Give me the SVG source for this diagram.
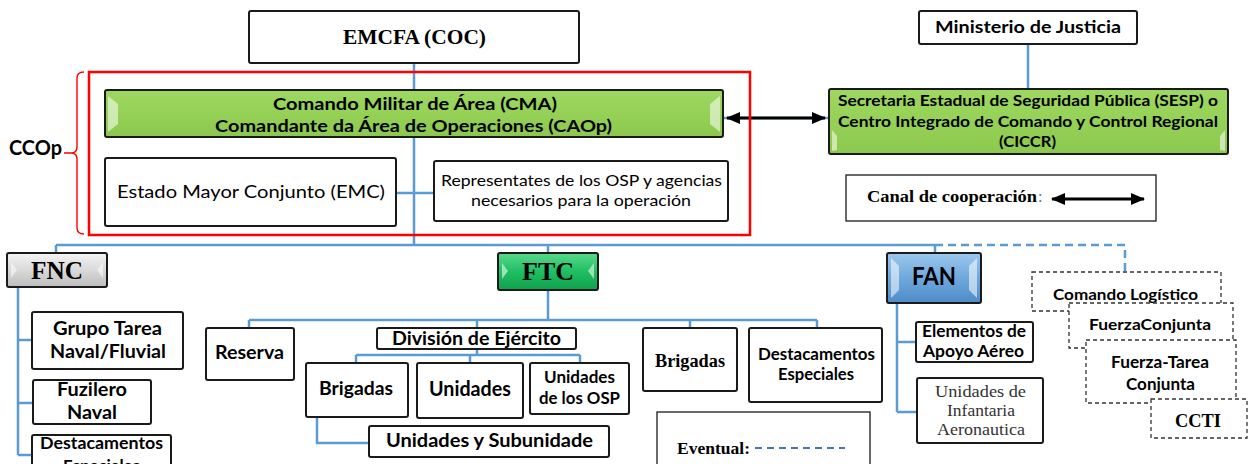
<svg xmlns="http://www.w3.org/2000/svg" width="1253" height="464" viewBox="0 0 1253 464">
<defs>
<linearGradient id="gGreen" x1="0" y1="0" x2="0" y2="1">
<stop offset="0" stop-color="#9ED860"/><stop offset="1" stop-color="#8CC84E"/>
</linearGradient>
<linearGradient id="gGrey" x1="0" y1="0" x2="0" y2="1">
<stop offset="0" stop-color="#F4F4F4"/><stop offset="0.5" stop-color="#D9D9D9"/><stop offset="1" stop-color="#BDBDBD"/>
</linearGradient>
<linearGradient id="gFtc" x1="0" y1="0" x2="0" y2="1">
<stop offset="0" stop-color="#5BD98C"/><stop offset="0.5" stop-color="#1FBF62"/><stop offset="1" stop-color="#0FA04C"/>
</linearGradient>
<linearGradient id="gFan" x1="0" y1="0" x2="0" y2="1">
<stop offset="0" stop-color="#9CC8EE"/><stop offset="0.5" stop-color="#6FA8DC"/><stop offset="1" stop-color="#4E8CC8"/>
</linearGradient>
<marker id="ah" viewBox="0 0 14 12" refX="13" refY="6" markerWidth="14" markerHeight="12" markerUnits="userSpaceOnUse" orient="auto-start-reverse">
<path d="M0,0 L14,6 L0,12 Z" fill="#000"/>
</marker>
</defs>
<style>
.box{fill:#fff;stroke:#1a1a1a;stroke-width:2}
.conn{fill:none;stroke:#5B9BD5;stroke-width:2.5}
.dbox{fill:#fff;stroke:#333;stroke-width:1.3;stroke-dasharray:4 3}
.t{font-family:Lato,'Liberation Sans',sans-serif;font-weight:bold;fill:#000}
.r{font-family:Lato,'Liberation Sans',sans-serif;font-weight:normal;fill:#000}
.s{font-family:'Liberation Serif','Times New Roman',serif;font-weight:bold;fill:#000}
.sr{font-family:'Liberation Serif','Times New Roman',serif;font-weight:normal;fill:#333}
.bev{fill:#fff;opacity:0.55}
</style>

<g id="connectors">
<path class="conn" d="M414,63 V245"/>
<path class="conn" d="M56,245 H935"/>
<path class="conn" d="M56,245 V253 M548,245 V253 M935,245 V253"/>
<path class="conn" d="M935,245 H1125 V272" stroke-dasharray="8 5"/>
<path class="conn" d="M396,193 H434"/>
<path class="conn" d="M1028,44 V89"/>
<path class="conn" d="M723,118 H829"/>
<path class="conn" d="M18,287 V455 M18,340 H32 M18,403 H33 M18,455 H32"/>
<path class="conn" d="M548,290 V320 M249,320 H817 M249,320 V328 M477,320 V328 M690,320 V328 M817,320 V328"/>
<path class="conn" d="M477,349 V355 M356,355 H580 M356,355 V363 M470,355 V363 M580,355 V363"/>
<path class="conn" d="M317,417 V443 H369"/>
<path class="conn" d="M897,303 V412 M897,342 H916 M897,412 H917"/>
<path d="M727,118 H825" stroke="#000" stroke-width="3" fill="none" marker-start="url(#ah)" marker-end="url(#ah)"/>
</g>

<g id="ccop">
<rect x="89" y="72" width="661" height="163" fill="none" stroke="#FF0000" stroke-width="2.5"/>
<path d="M84,72 Q77,72 77,78 V147 Q77,153 71,153 H64 M71,153 Q77,153 77,159 V228 Q77,234 84,234" fill="none" stroke="#FF0000" stroke-width="1.4"/>
<text class="t" x="9" y="155" font-size="20" textLength="53" lengthAdjust="spacingAndGlyphs">CCOp</text>
</g>

<g id="emcfa">
<rect class="box" x="249" y="11" width="330" height="52" rx="2"/>
<text class="s" x="414.5" y="44" font-size="21" text-anchor="middle" textLength="143" lengthAdjust="spacingAndGlyphs">EMCFA (COC)</text>
</g>

<g id="cma">
<rect x="105" y="90" width="618" height="47" rx="2" fill="url(#gGreen)" stroke="#1a1a1a" stroke-width="2"/>
<polygon class="bev" points="108,96 118,104 118,124 108,132"/>
<polygon class="bev" points="720,96 710,104 710,124 720,132"/>
<text class="t" x="415" y="110" font-size="17" text-anchor="middle" textLength="284" lengthAdjust="spacingAndGlyphs">Comando Militar de Área (CMA)</text>
<text class="t" x="413.5" y="132" font-size="17" text-anchor="middle" textLength="397" lengthAdjust="spacingAndGlyphs">Comandante da Área de Operaciones (CAOp)</text>
</g>

<g id="emc">
<rect class="box" x="105" y="158" width="291" height="68" rx="2"/>
<text class="r" x="251" y="198" font-size="18" text-anchor="middle" textLength="268" lengthAdjust="spacingAndGlyphs">Estado Mayor Conjunto (EMC)</text>
</g>

<g id="representantes">
<rect class="box" x="434" y="161" width="294" height="60" rx="2"/>
<text class="r" x="581.5" y="186" font-size="16" text-anchor="middle" textLength="281" lengthAdjust="spacingAndGlyphs">Representates de los OSP y agencias</text>
<text class="r" x="581" y="206" font-size="16" text-anchor="middle" textLength="220" lengthAdjust="spacingAndGlyphs">necesarios para la operación</text>
</g>

<g id="ministerio">
<rect class="box" x="919" y="11" width="218" height="33" rx="2"/>
<text class="t" x="1028" y="33" font-size="17" text-anchor="middle" textLength="186" lengthAdjust="spacingAndGlyphs">Ministerio de Justicia</text>
</g>

<g id="sesp">
<rect x="829" y="89" width="399" height="65" rx="2" fill="url(#gGreen)" stroke="#1a1a1a" stroke-width="2"/>
<polygon class="bev" points="832,130 837,136 837,150 832,151" opacity="0.4"/>
<polygon class="bev" points="1225,130 1220,136 1220,150 1225,151" opacity="0.4"/>
<text class="t" x="1028" y="106" font-size="16" text-anchor="middle" textLength="380" lengthAdjust="spacingAndGlyphs">Secretaria Estadual de Seguridad Pública (SESP) o</text>
<text class="t" x="1028" y="127" font-size="16" text-anchor="middle" textLength="380" lengthAdjust="spacingAndGlyphs">Centro Integrado de Comando y Control Regional</text>
<text class="t" x="1027.5" y="147" font-size="16" text-anchor="middle" textLength="57" lengthAdjust="spacingAndGlyphs">(CICCR)</text>
</g>

<g id="legend-canal">
<rect x="846" y="175" width="310" height="46" fill="#fff" stroke="#1a1a1a" stroke-width="1.3"/>
<text class="s" x="867" y="202" font-size="16" textLength="170" lengthAdjust="spacingAndGlyphs">Canal de cooperación</text>
<text x="1038" y="202" font-size="16" font-family="'Liberation Serif',serif" fill="#4472C4">:</text>
<path d="M1052,199 H1144" stroke="#000" stroke-width="3" fill="none" marker-start="url(#ah)" marker-end="url(#ah)"/>
</g>

<g id="fnc">
<rect x="7" y="253" width="100" height="34" rx="2" fill="url(#gGrey)" stroke="#1a1a1a" stroke-width="2"/>
<polygon class="bev" points="11,262 17,270 11,278" opacity="0.9"/>
<polygon class="bev" points="103,262 97,270 103,278" opacity="0.9"/>
<text class="s" x="57" y="279" font-size="25" text-anchor="middle" textLength="52" lengthAdjust="spacingAndGlyphs">FNC</text>
</g>

<g id="ftc">
<rect x="498" y="253" width="100" height="37" rx="2" fill="url(#gFtc)" stroke="#1a1a1a" stroke-width="2"/>
<polygon class="bev" points="502,263 508,271 502,279" opacity="0.8"/>
<polygon class="bev" points="594,263 588,271 594,279" opacity="0.8"/>
<text class="s" x="548" y="280" font-size="25" text-anchor="middle" textLength="52" lengthAdjust="spacingAndGlyphs">FTC</text>
</g>

<g id="fan">
<rect x="887" y="253" width="94" height="50" rx="2" fill="url(#gFan)" stroke="#1a1a1a" stroke-width="2"/>
<polygon class="bev" points="891,258 899,266 899,290 891,298" opacity="0.6"/>
<polygon class="bev" points="977,258 969,266 969,290 977,298" opacity="0.6"/>
<text class="t" x="934" y="285" font-size="24" text-anchor="middle" textLength="44" lengthAdjust="spacingAndGlyphs">FAN</text>
</g>

<g id="grupo-tarea">
<rect class="box" x="32" y="312" width="151" height="57" rx="2"/>
<text class="t" x="107.5" y="335" font-size="19" text-anchor="middle" textLength="109" lengthAdjust="spacingAndGlyphs">Grupo Tarea</text>
<text class="t" x="108" y="358" font-size="19" text-anchor="middle" textLength="116" lengthAdjust="spacingAndGlyphs">Naval/Fluvial</text>
</g>

<g id="fuzilero">
<rect class="box" x="33" y="380" width="118" height="44" rx="2"/>
<text class="t" x="92" y="396" font-size="19" text-anchor="middle" textLength="70" lengthAdjust="spacingAndGlyphs">Fuzilero</text>
<text class="t" x="92" y="419" font-size="19" text-anchor="middle" textLength="50" lengthAdjust="spacingAndGlyphs">Naval</text>
</g>

<g id="destacamentos-fnc">
<rect class="box" x="32" y="435" width="139" height="40" rx="2"/>
<text class="t" x="101.5" y="449" font-size="17" text-anchor="middle" textLength="123" lengthAdjust="spacingAndGlyphs">Destacamentos</text>
<text class="t" x="101.5" y="472" font-size="17" text-anchor="middle" textLength="77" lengthAdjust="spacingAndGlyphs">Especiales</text>
</g>

<g id="reserva">
<rect class="box" x="206" y="328" width="88" height="52" rx="2"/>
<text class="t" x="249.5" y="359" font-size="19" text-anchor="middle" textLength="69" lengthAdjust="spacingAndGlyphs">Reserva</text>
</g>

<g id="division">
<rect class="box" x="377" y="328" width="199" height="21" rx="2"/>
<text class="t" x="476.5" y="345" font-size="18" text-anchor="middle" textLength="169" lengthAdjust="spacingAndGlyphs">División de Ejército</text>
</g>

<g id="brigadas-div">
<rect class="box" x="306" y="363" width="102" height="54" rx="2"/>
<text class="t" x="356" y="395" font-size="19" text-anchor="middle" textLength="74" lengthAdjust="spacingAndGlyphs">Brigadas</text>
</g>

<g id="unidades">
<rect class="box" x="417" y="363" width="106" height="55" rx="2"/>
<text class="t" x="470" y="396" font-size="20" text-anchor="middle" textLength="82" lengthAdjust="spacingAndGlyphs">Unidades</text>
</g>

<g id="unidades-osp">
<rect class="box" x="530" y="363" width="99" height="51" rx="2"/>
<text class="t" x="579.5" y="383" font-size="17" text-anchor="middle" textLength="71" lengthAdjust="spacingAndGlyphs">Unidades</text>
<text class="t" x="579.5" y="404" font-size="17" text-anchor="middle" textLength="81" lengthAdjust="spacingAndGlyphs">de los OSP</text>
</g>

<g id="unidades-subunidade">
<rect class="box" x="369" y="426" width="240" height="31" rx="2"/>
<text class="t" x="489.5" y="447" font-size="19" text-anchor="middle" textLength="207" lengthAdjust="spacingAndGlyphs">Unidades y Subunidade</text>
</g>

<g id="brigadas-ftc">
<rect class="box" x="643" y="328" width="94" height="63" rx="2"/>
<text class="s" x="690" y="367" font-size="18" text-anchor="middle" textLength="70" lengthAdjust="spacingAndGlyphs">Brigadas</text>
</g>

<g id="destacamentos-ftc">
<rect class="box" x="749" y="328" width="133" height="74" rx="2"/>
<text class="t" x="816.5" y="360" font-size="17" text-anchor="middle" textLength="117" lengthAdjust="spacingAndGlyphs">Destacamentos</text>
<text class="t" x="816" y="380" font-size="17" text-anchor="middle" textLength="76" lengthAdjust="spacingAndGlyphs">Especiales</text>
</g>

<g id="legend-eventual">
<rect x="657" y="412" width="213" height="60" fill="#fff" stroke="#1a1a1a" stroke-width="1.3"/>
<text class="s" x="677" y="454" font-size="17" textLength="73" lengthAdjust="spacingAndGlyphs">Eventual:</text>
<path d="M755,448 H845" stroke="#4472C4" stroke-width="2" stroke-dasharray="7 5" fill="none"/>
</g>

<g id="elementos">
<rect class="box" x="916" y="322" width="117" height="40" rx="2"/>
<text class="t" x="974" y="337" font-size="17" text-anchor="middle" textLength="104" lengthAdjust="spacingAndGlyphs">Elementos de</text>
<text class="t" x="973.5" y="357" font-size="17" text-anchor="middle" textLength="101" lengthAdjust="spacingAndGlyphs">Apoyo Aéreo</text>
</g>

<g id="infantaria">
<rect class="box" x="917" y="378" width="126" height="65" rx="2"/>
<text class="sr" x="980.5" y="397" font-size="17" text-anchor="middle" textLength="91" lengthAdjust="spacingAndGlyphs">Unidades de</text>
<text class="sr" x="981" y="416" font-size="17" text-anchor="middle" textLength="68" lengthAdjust="spacingAndGlyphs">Infantaria</text>
<text class="sr" x="981" y="435" font-size="17" text-anchor="middle" textLength="88" lengthAdjust="spacingAndGlyphs">Aeronautica</text>
</g>

<g id="comando-logistico">
<rect class="dbox" x="1032" y="272" width="189" height="39"/>
<text class="t" x="1125.5" y="300" font-size="16" text-anchor="middle" textLength="145" lengthAdjust="spacingAndGlyphs">Comando Logístico</text>
</g>

<g id="fuerza-conjunta">
<rect class="dbox" x="1069" y="303" width="164" height="45"/>
<text class="t" x="1150" y="330" font-size="16" text-anchor="middle" textLength="122" lengthAdjust="spacingAndGlyphs">FuerzaConjunta</text>
</g>

<g id="fuerza-tarea">
<rect class="dbox" x="1086" y="340" width="150" height="63"/>
<text class="t" x="1160" y="368" font-size="17" text-anchor="middle" textLength="98" lengthAdjust="spacingAndGlyphs">Fuerza-Tarea</text>
<text class="t" x="1160.5" y="390" font-size="17" text-anchor="middle" textLength="69" lengthAdjust="spacingAndGlyphs">Conjunta</text>
</g>

<g id="ccti">
<rect class="dbox" x="1151" y="399" width="96" height="39"/>
<text class="s" x="1198" y="427" font-size="18" text-anchor="middle" textLength="46" lengthAdjust="spacingAndGlyphs">CCTI</text>
</g>
</svg>
